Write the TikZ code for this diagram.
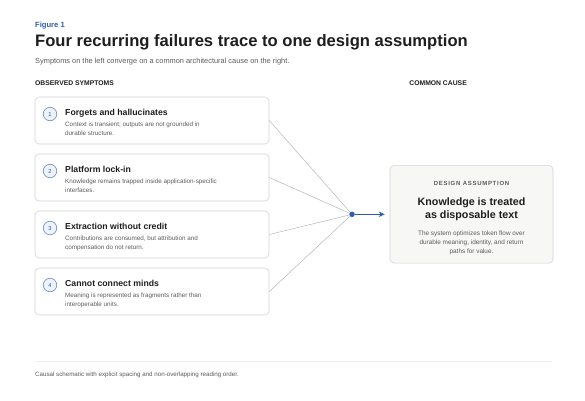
\documentclass[tikz,border=0pt]{standalone}
\usepackage{fontspec}
\setmainfont{Liberation Sans}
\newfontfamily\capsfont[LetterSpace=12]{Liberation Sans}
\usetikzlibrary{arrows.meta}

\definecolor{figblue}{HTML}{2F5DA8}
\definecolor{inkdark}{HTML}{1E1E1E}
\definecolor{textgray}{HTML}{5C5C5C}
\definecolor{bordergray}{HTML}{D4D4D4}
\definecolor{linkgray}{HTML}{B8B8B8}
\definecolor{circfill}{HTML}{EEF3FB}
\definecolor{panelfill}{HTML}{F7F7F5}
\definecolor{rulegray}{HTML}{EDEDED}

\tikzset{
  symbox/.style={draw=bordergray, fill=white, rounded corners=4pt, line width=0.6pt,
    minimum width=234pt, minimum height=47pt, inner sep=0pt},
  numdot/.style={circle, draw=figblue!65, fill=circfill, line width=0.7pt,
    minimum size=13.5pt, inner sep=0pt, text=figblue,
    font=\fontsize{5.8}{6}\selectfont},
  boxtitle/.style={anchor=base west, inner sep=0pt, text=inkdark,
    font=\fontsize{8.7}{10}\selectfont\bfseries},
  boxnote/.style={anchor=north west, align=left, inner sep=0pt, text=textgray,
    font=\fontsize{6.3}{8.3}\selectfont},
  link/.style={draw=linkgray, line width=0.5pt},
}

\begin{document}
\begin{tikzpicture}[x=1pt,y=-1pt]
  \useasboundingbox[fill=white] (0,0) rectangle (585,400);

  % header
  \node[anchor=base west, inner sep=0pt, text=figblue, font=\fontsize{7.6}{9}\selectfont\bfseries] (fig) at (35,27.3) {Figure 1};
  \node[anchor=base west, inner sep=0pt, text=inkdark, font=\fontsize{16.6}{19}\selectfont\bfseries] (title) at (35,46) {Four recurring failures trace to one design assumption};
  \node[anchor=base west, inner sep=0pt, text=textgray, font=\fontsize{7.4}{9}\selectfont] (sub) at (35,63) {Symptoms on the left converge on a common architectural cause on the right.};
  \node[anchor=base west, inner sep=0pt, text=inkdark, font=\fontsize{6.8}{8}\selectfont\bfseries] (lefthead) at (35,85) {OBSERVED SYMPTOMS};
  \node[anchor=base east, inner sep=0pt, text=inkdark, font=\fontsize{6.8}{8}\selectfont\bfseries] (righthead) at (467,85) {COMMON CAUSE};

  % common cause
  \node[draw=bordergray, fill=panelfill, rounded corners=4pt, line width=0.6pt,
    minimum width=163pt, minimum height=97.5pt] (cause) at (471.5,214.3) {};
  \node[anchor=base, inner sep=0pt, text=textgray, font=\fontsize{6}{7}\capsfont\bfseries] (causetag) at (471.5,185.2) {DESIGN ASSUMPTION};
  \node[anchor=north, align=center, inner sep=0pt, text=inkdark, font=\fontsize{10.7}{12.6}\selectfont\bfseries] (causehead) at (471.5,197.8) {Knowledge is treated\\as disposable text};
  \node[anchor=north, align=center, inner sep=0pt, text=textgray, font=\fontsize{6.4}{9.2}\selectfont] (causenote) at (471.5,230.3) {The system optimizes token flow over\\durable meaning, identity, and return\\paths for value.};

  \node[circle, fill=figblue, inner sep=0pt, minimum size=5.5pt] (hub) at (352,214.3) {};
  \draw[figblue, line width=1pt, -{Stealth[length=6pt,width=5.5pt]}, shorten >=5pt] (hub) -- (cause.west);

  % symptoms
  \foreach \i/\y/\head/\note in {
      1/97/{Forgets and hallucinates}/{Context is transient; outputs are not grounded in\\durable structure.},
      2/154/{Platform lock-in}/{Knowledge remains trapped inside application-specific\\interfaces.},
      3/211/{Extraction without credit}/{Contributions are consumed, but attribution and\\compensation do not return.},
      4/268/{Cannot connect minds}/{Meaning is represented as fragments rather than\\interoperable units.}} {
    \node[symbox] (s\i) at (152,\y+23.5) {};
    \node[numdot] (n\i) at (50,\y+17) {\i};
    \node[boxtitle] (h\i) at (65,\y+18.7) {\head};
    \node[boxnote] (d\i) at (65,\y+25) {\note};
    \draw[link] (s\i.east) -- (hub);
  }

  % footer
  \draw[rulegray, line width=1pt] (35,361) -- (552,361);
  \node[anchor=base west, inner sep=0pt, text=textgray, font=\fontsize{6.2}{8}\selectfont] (foot) at (35,376) {Causal schematic with explicit spacing and non-overlapping reading order.};
\end{tikzpicture}
\end{document}
